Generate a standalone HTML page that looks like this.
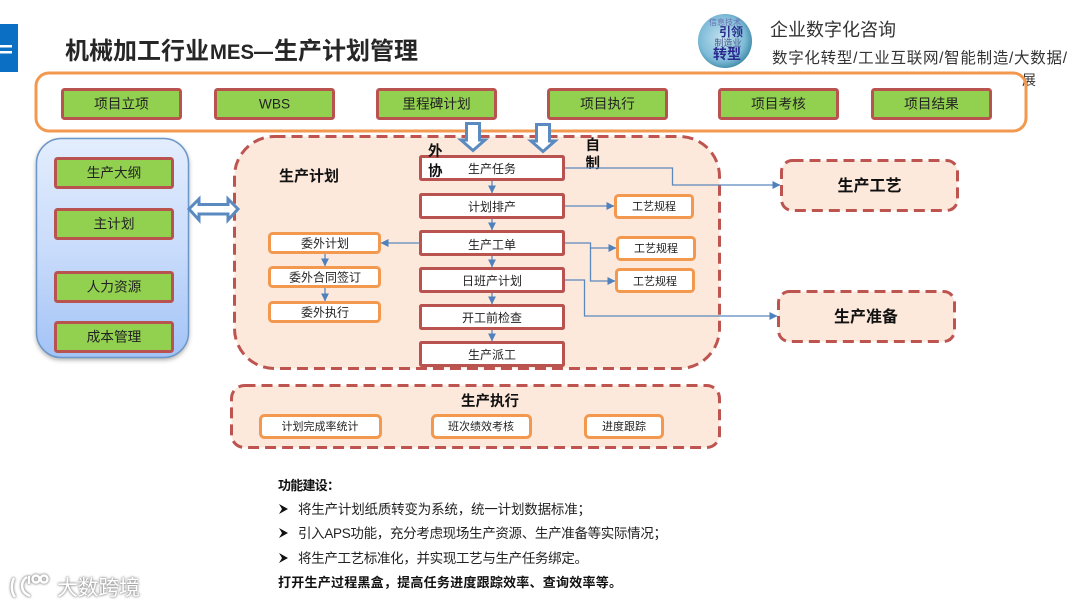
<!DOCTYPE html>
<html lang="zh"><head><meta charset="utf-8"><title>机械加工行业MES—生产计划管理</title>
<style>
html,body{margin:0;padding:0;background:#fff;width:1080px;height:607px;overflow:hidden}
svg{display:block;filter:blur(.3px)}
text{font-family:"Liberation Sans","Noto Sans CJK SC",sans-serif;fill:#222}
.g{fill:#92d050;stroke:#b9534f;stroke-width:3}
.w{fill:#fff;stroke:#b9534f;stroke-width:3}
.o{fill:#fff;stroke:#f3994f;stroke-width:3}
.d{fill:#fde9dc;stroke:#bd5450;stroke-width:3;stroke-dasharray:11 6}
.c{fill:none;stroke:#5b88bd;stroke-width:1.3}
.h{fill:#fff;stroke:#5a8ac0;stroke-width:3}
.t14{font-size:13.7px;text-anchor:middle}
.t12{font-size:12px;text-anchor:middle}
.t11{font-size:11px;text-anchor:middle}
.b{font-weight:700;fill:#111}
.l{font-size:13.5px}
.wm{filter:drop-shadow(0 0 1.2px #8f8f8f) drop-shadow(0 0 .6px #aaa)}
</style></head><body>
<svg width="1080" height="607" viewBox="0 0 1080 607" xmlns="http://www.w3.org/2000/svg">
<defs>
<linearGradient id="bg" x1="0" y1="0" x2="0" y2="1"><stop offset="0" stop-color="#e3edfd"/><stop offset=".5" stop-color="#c9dcfb"/><stop offset="1" stop-color="#a3c3f6"/></linearGradient>
<radialGradient id="lg" cx=".45" cy=".45" r=".6"><stop offset="0" stop-color="#c4e2ef"/><stop offset=".7" stop-color="#7dbbd8"/><stop offset="1" stop-color="#37839f"/></radialGradient>
<marker id="a" viewBox="0 0 10 10" refX="9.5" refY="5" markerWidth="8" markerHeight="8" markerUnits="userSpaceOnUse" orient="auto"><path d="M0 0L10 5L0 10Z" fill="#4f81bd"/></marker>
</defs>

<!-- tab -->
<rect x="0" y="24" width="18" height="48" fill="#0b6fc4"/>
<rect x="0" y="45" width="12" height="2.500" fill="#fff"/><rect x="0" y="51" width="12" height="2.500" fill="#fff"/>

<!-- title -->
<g style="fill:#262626" font-weight="700">
<text x="65" y="59" font-size="24" textLength="144" style="fill:#262626">机械加工行业</text>
<text x="210" y="59" font-size="21" textLength="44" lengthAdjust="spacingAndGlyphs" style="fill:#262626">MES</text>
<text x="254" y="59" font-size="22" textLength="19" lengthAdjust="spacingAndGlyphs" style="fill:#262626">—</text>
<text x="274" y="59" font-size="24" textLength="144" style="fill:#262626">生产计划管理</text>
</g>

<!-- logo -->
<circle cx="725" cy="41" r="27" fill="url(#lg)"/>
<text x="725" y="25" font-size="8" text-anchor="middle" style="fill:#6a6fb0">信息技术</text>
<text x="731" y="36" font-size="12" font-weight="700" text-anchor="middle" style="fill:#2b2f8c">引领</text>
<text x="728" y="46" font-size="9" text-anchor="middle" style="fill:#4a5a8a">制造业</text>
<text x="727" y="59" font-size="14" font-weight="700" text-anchor="middle" style="fill:#2b2890">转型</text>

<text x="770" y="36" font-size="18" style="fill:#333" textLength="126">企业数字化咨询</text>
<text x="772" y="63" font-size="15.500" style="fill:#333" textLength="295">数字化转型/工业互联网/智能制造/大数据/</text>
<text x="1022" y="85" font-size="14" style="fill:#333">展</text>

<!-- top band -->
<rect x="36" y="73" width="990" height="58" rx="13" fill="none" stroke="#f3994f" stroke-width="3"/>
<g>
<rect class="g" x="62.500" y="89.500" width="118" height="29" rx="2"/><text class="t14" x="121.500" y="108.500">项目立项</text>
<rect class="g" x="215.500" y="89.500" width="118" height="29" rx="2"/><text class="t14" x="274.500" y="108.500">WBS</text>
<rect class="g" x="377.500" y="89.500" width="118" height="29" rx="2"/><text class="t14" x="436.500" y="108.500">里程碑计划</text>
<rect class="g" x="548.500" y="89.500" width="118" height="29" rx="2"/><text class="t14" x="607.500" y="108.500">项目执行</text>
<rect class="g" x="719.500" y="89.500" width="118" height="29" rx="2"/><text class="t14" x="778.500" y="108.500">项目考核</text>
<rect class="g" x="872.500" y="89.500" width="118" height="29" rx="2"/><text class="t14" x="931.500" y="108.500">项目结果</text>
</g>

<!-- left panel -->
<rect x="36.500" y="138.500" width="152" height="219" rx="25" fill="url(#bg)" stroke="#6b97c8" stroke-width="1.500" style="filter:drop-shadow(0 2px 2px rgba(0,0,0,.3))"/>
<rect class="g" x="55.500" y="158.500" width="117" height="29" rx="2"/><text class="t14" x="114" y="177.500">生产大纲</text>
<rect class="g" x="55.500" y="209.500" width="117" height="29" rx="2"/><text class="t14" x="114" y="228.500">主计划</text>
<rect class="g" x="55.500" y="272.500" width="117" height="29" rx="2"/><text class="t14" x="114" y="291.500">人力资源</text>
<rect class="g" x="55.500" y="322.500" width="117" height="29" rx="2"/><text class="t14" x="114" y="341.500">成本管理</text>

<!-- main panel -->
<rect class="d" x="234.500" y="136.500" width="485" height="232" rx="40"/>
<text class="b" x="279" y="181" font-size="15" textLength="60">生产计划</text>

<!-- center boxes -->
<rect class="w" x="420.500" y="156.500" width="143" height="23" rx="1"/><text class="t12" x="492" y="173">生产任务</text>
<rect class="w" x="420.500" y="194.500" width="143" height="23" rx="1"/><text class="t12" x="492" y="211">计划排产</text>
<rect class="w" x="420.500" y="231.500" width="143" height="23" rx="1"/><text class="t12" x="492" y="249">生产工单</text>
<rect class="w" x="420.500" y="268.500" width="143" height="23" rx="1"/><text class="t12" x="492" y="285">日班产计划</text>
<rect class="w" x="420.500" y="305.500" width="143" height="23" rx="1"/><text class="t12" x="492" y="322">开工前检查</text>
<rect class="w" x="420.500" y="342.500" width="143" height="23" rx="1"/><text class="t12" x="492" y="359">生产派工</text>

<text class="b" x="428" y="156" font-size="14.500">外</text>
<text class="b" x="428" y="176" font-size="14.500">协</text>
<text class="b" x="585.500" y="150" font-size="14.500">自</text>
<text class="b" x="585.500" y="168" font-size="14.500">制</text>

<!-- vertical arrows -->
<path class="c" marker-end="url(#a)" d="M492 181V193"/>
<path class="c" marker-end="url(#a)" d="M492 219V230"/>
<path class="c" marker-end="url(#a)" d="M492 256V267"/>
<path class="c" marker-end="url(#a)" d="M492 293V304"/>
<path class="c" marker-end="url(#a)" d="M492 330V341"/>

<!-- left orange -->
<rect class="o" x="269.500" y="233.500" width="110" height="19" rx="3"/><text class="t12" x="325" y="247.500">委外计划</text>
<rect class="o" x="269.500" y="267.500" width="110" height="19" rx="3"/><text class="t12" x="325" y="281.500">委外合同签订</text>
<rect class="o" x="269.500" y="302.500" width="110" height="19" rx="3"/><text class="t12" x="325" y="316.500">委外执行</text>
<path class="c" marker-end="url(#a)" d="M325 254V266"/>
<path class="c" marker-end="url(#a)" d="M325 288V301"/>
<path class="c" marker-end="url(#a)" d="M420 243H381"/>

<!-- right orange -->
<rect class="o" x="615.500" y="195.500" width="77" height="22" rx="3"/><text class="t11" x="654" y="210">工艺规程</text>
<rect class="o" x="617.500" y="237.500" width="77" height="22" rx="3"/><text class="t11" x="656" y="252">工艺规程</text>
<rect class="o" x="616.500" y="269.500" width="77" height="22" rx="3"/><text class="t11" x="655" y="285">工艺规程</text>
<path class="c" marker-end="url(#a)" d="M565 206H614"/>
<path class="c" marker-end="url(#a)" d="M565 243H590.500V248H616"/>
<path class="c" marker-end="url(#a)" d="M590.500 248V281H615"/>
<path class="c" marker-end="url(#a)" d="M565 168H672.500V185H780"/>
<path class="c" marker-end="url(#a)" d="M565 280H584.500V316H777"/>

<!-- hollow arrows -->
<path class="h" d="M466.500 123.500H479.500V140H485L473 150.500L461 140H466.500Z"/>
<path class="h" d="M536.500 124.500H549.500V141H555L543 151.500L531 141H536.500Z"/>
<path class="h" d="M189 209L199 199V204.500H228V199L238 209L228 220V214H199V220Z"/>

<!-- right dashed -->
<rect class="d" x="781.500" y="160.500" width="176" height="50" rx="11"/>
<text class="b" x="869.500" y="191" font-size="16" text-anchor="middle">生产工艺</text>
<rect class="d" x="778.500" y="291.500" width="176" height="50" rx="11"/>
<text class="b" x="866" y="322" font-size="16" text-anchor="middle">生产准备</text>

<!-- exec -->
<rect class="d" x="231.500" y="385.500" width="488" height="62" rx="13"/>
<text class="b" x="490" y="406" font-size="14.500" text-anchor="middle">生产执行</text>
<rect class="o" x="260.500" y="415.500" width="120" height="22" rx="4"/><text class="t11" x="320" y="430">计划完成率统计</text>
<rect class="o" x="432.500" y="415.500" width="98" height="22" rx="4"/><text class="t11" x="481" y="430">班次绩效考核</text>
<rect class="o" x="585.500" y="415.500" width="77" height="22" rx="4"/><text class="t11" x="624" y="430">进度跟踪</text>

<!-- notes -->
<text class="b" x="278" y="490" font-size="13" textLength="62">功能建设：</text>
<path d="M279 504L288 509L279 514L282 509Z" fill="#111"/><text class="l" x="298" y="514" textLength="293">将生产计划纸质转变为系统，统一计划数据标准；</text>
<path d="M279 528L288 533L279 538L282 533Z" fill="#111"/><text class="l" x="298" y="538" textLength="369">引入APS功能，充分考虑现场生产资源、生产准备等实际情况；</text>
<path d="M279 553L288 558L279 563L282 558Z" fill="#111"/><text class="l" x="298" y="563" textLength="290">将生产工艺标准化，并实现工艺与生产任务绑定。</text>
<text class="b" x="278" y="587" font-size="13" textLength="344">打开生产过程黑盒，提高任务进度跟踪效率、查询效率等。</text>

<!-- watermark -->
<g class="wm">
<g fill="none" stroke="#fff" stroke-width="2.500">
<path d="M14 578C11 584 11 592 15 597"/>
<path d="M27 577C20 582 20 592 30 596"/>
<path d="M29 576V584"/>
<circle cx="36" cy="579" r="3.500"/><circle cx="44" cy="579" r="3.500"/>
</g>
<text x="57" y="595" font-size="21" textLength="83" style="fill:#fff">大数跨境</text>
</g>
</svg>
</body></html>
